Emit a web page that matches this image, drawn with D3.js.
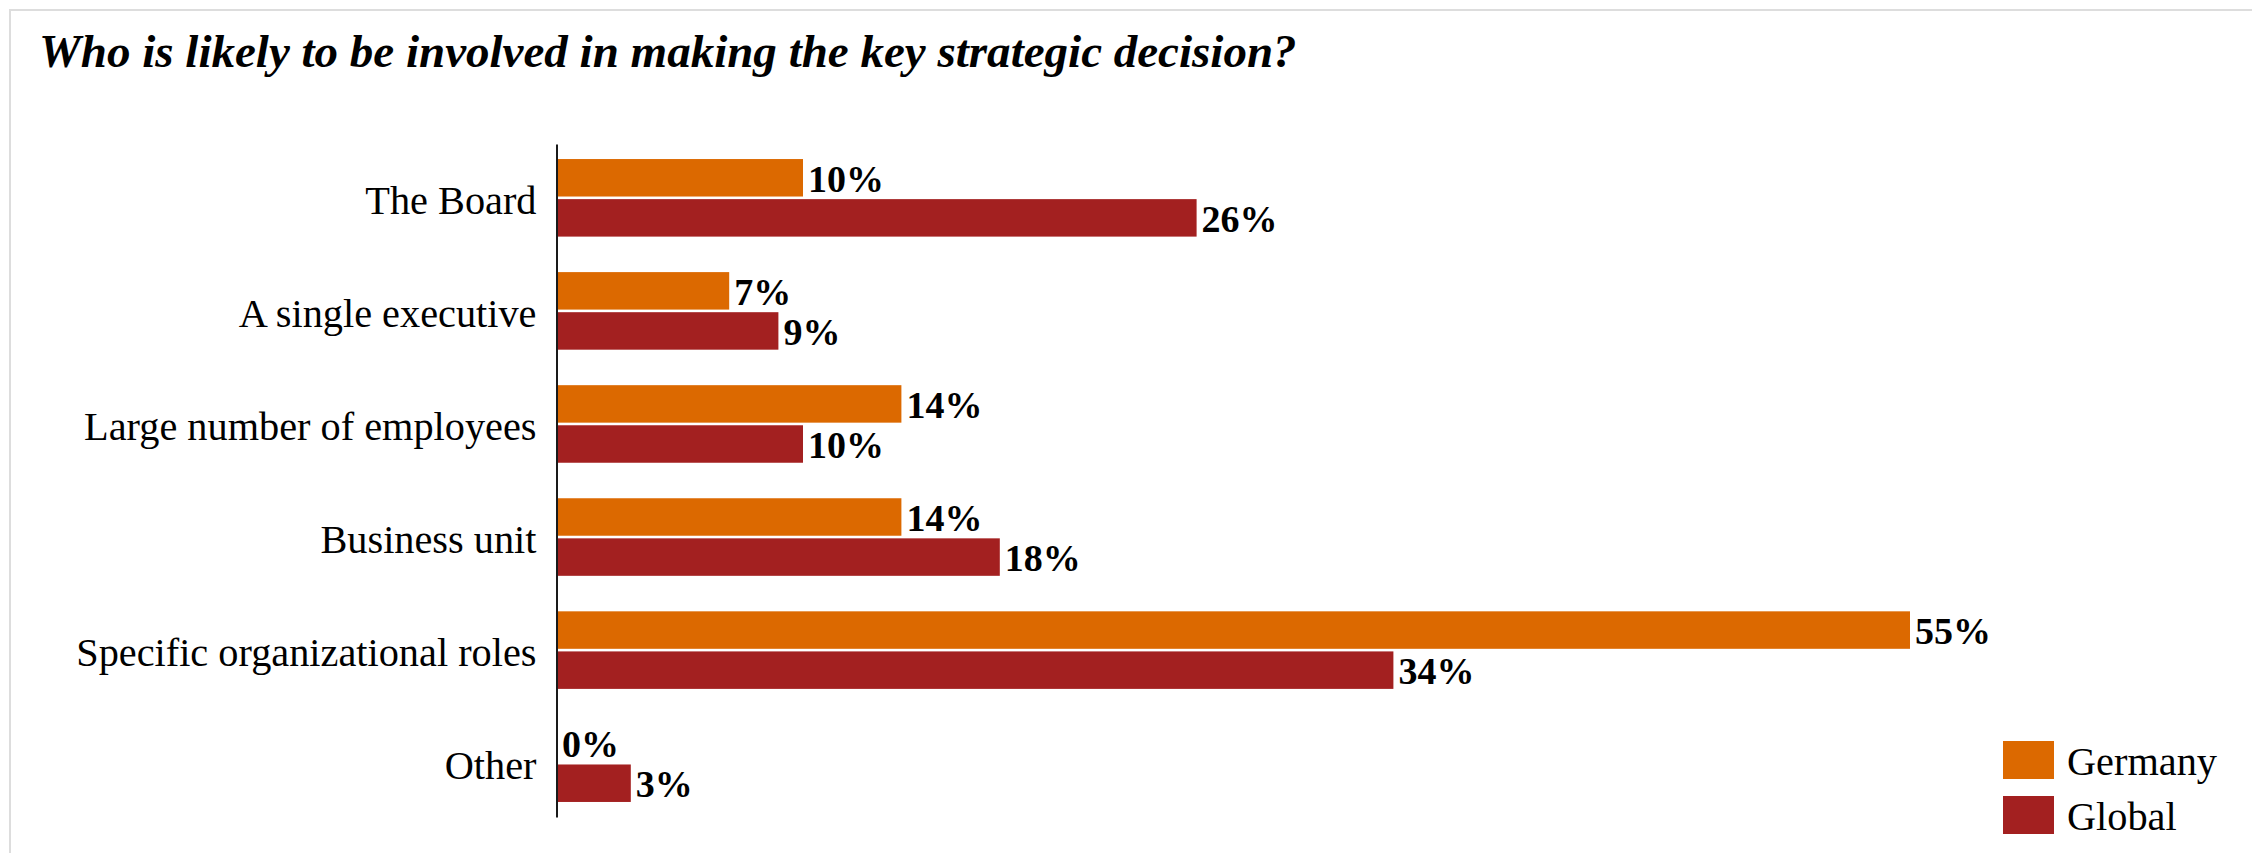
<!DOCTYPE html>
<html>
<head>
<meta charset="utf-8">
<script src="https://cdn.jsdelivr.net/npm/d3@7"></script>
<style>
  html, body { margin: 0; padding: 0; background: #fff; }
  svg { display: block; }
</style>
</head>
<body>
<svg id="chart" width="2252" height="853"></svg>
<script>
// Survey answers: who takes part in the key strategic decision
const categories = [
  "The Board",
  "A single executive",
  "Large number of employees",
  "Business unit",
  "Specific organizational roles",
  "Other"
];
const seriesNames = ["Germany", "Global"];
const germanyValues = [10, 7, 14, 14, 55, 0];
const globalValues = [26, 9, 10, 18, 34, 3];
const seriesColors = ["#DC6900", "#A32020"];
const titleText = "Who is likely to be involved in making the key strategic decision?";

const rows = categories.map((c, i) => ({
  category: c,
  values: [
    { series: seriesNames[0], value: germanyValues[i] },
    { series: seriesNames[1], value: globalValues[i] }
  ]
}));

const W = 2252, H = 853;
const svg = d3.select("#chart");
const serif = "'Liberation Serif', 'Times New Roman', serif";

// light frame around the card
svg.append("rect")
  .attr("x", 10).attr("y", 10)
  .attr("width", W + 20).attr("height", H + 20)
  .attr("fill", "none")
  .attr("stroke", "#dddddd")
  .attr("stroke-width", 2);

// grow/shrink a text element's font size until it spans the given width
function fitWidth(sel, target) {
  const node = sel.node();
  const fs = parseFloat(sel.attr("font-size"));
  const w = node.getComputedTextLength();
  sel.attr("font-size", (fs * target / w).toFixed(2));
}

// title
const title = svg.append("text")
  .attr("x", 39).attr("y", 67)
  .attr("font-family", serif)
  .attr("font-style", "italic")
  .attr("font-weight", "bold")
  .attr("font-size", 38)
  .attr("fill", "#000")
  .text(titleText);
fitWidth(title, 1258);

// scales
const x = d3.scaleLinear().domain([0, 55]).range([557, 557 + 55 * 24.6]);
const y = d3.scaleBand()
  .domain(categories)
  .range([144, 817])
  .paddingInner(0.314)
  .paddingOuter(0.133);
const ySub = d3.scaleBand()
  .domain(seriesNames)
  .range([0, y.bandwidth()])
  .paddingInner(0.065);
const color = d3.scaleOrdinal().domain(seriesNames).range(seriesColors);

// bars
const groups = svg.append("g").attr("class", "bars")
  .selectAll("g")
  .data(rows)
  .join("g")
  .attr("transform", d => `translate(0,${y(d.category)})`);

groups.selectAll("rect")
  .data(d => d.values)
  .join("rect")
  .attr("x", x(0))
  .attr("y", d => ySub(d.series))
  .attr("width", d => x(d.value) - x(0))
  .attr("height", ySub.bandwidth())
  .attr("fill", d => color(d.series));

// value labels
groups.selectAll("text")
  .data(d => d.values)
  .join("text")
  .attr("x", d => x(d.value) + 5)
  .attr("y", d => ySub(d.series) + ySub.bandwidth() / 2 + 14)
  .attr("font-family", serif)
  .attr("font-weight", "bold")
  .attr("font-size", 38)
  .attr("fill", "#000")
  .text(d => d.value + "%");

// category axis
const axisG = svg.append("g")
  .attr("transform", `translate(${x(0) - 0.5},0)`)
  .call(d3.axisLeft(y).tickSize(0).tickSizeOuter(0).tickPadding(20));
axisG.select(".domain")
  .attr("stroke", "#1a1a1a")
  .attr("stroke-width", 2);
axisG.selectAll(".tick text")
  .attr("font-family", serif)
  .attr("font-size", 40.3)
  .attr("fill", "#000")
  .attr("dy", "0.4em");

// legend
const legend = svg.append("g")
  .attr("transform", "translate(2003,741)")
  .selectAll("g")
  .data(seriesNames)
  .join("g")
  .attr("transform", (d, i) => `translate(0,${i * 55})`);
legend.append("rect")
  .attr("width", 51).attr("height", 38)
  .attr("fill", d => color(d));
legend.append("text")
  .attr("x", 64).attr("y", 34)
  .attr("font-family", serif)
  .attr("font-size", 40.3)
  .attr("fill", "#000")
  .text(d => d);
</script>
</body>
</html>
